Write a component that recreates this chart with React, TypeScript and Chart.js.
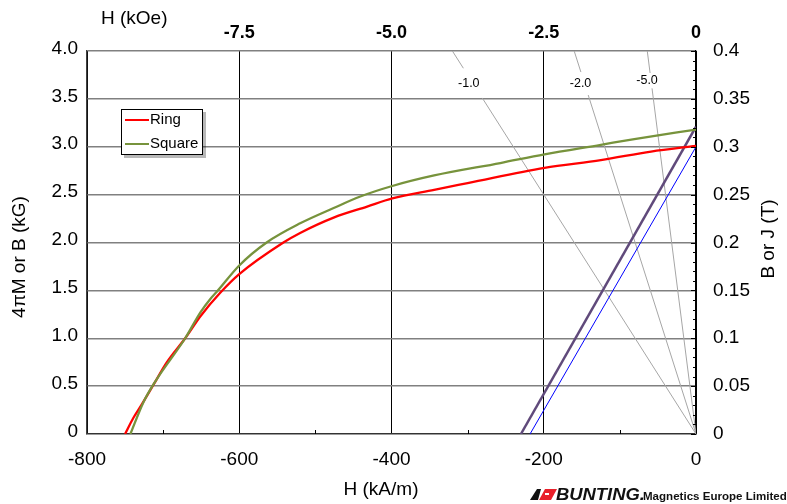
import React, { useEffect, useRef } from "react";
import { Chart, registerables } from "chart.js";

Chart.register(...registerables);

const FONT = "Arial, 'Liberation Sans', sans-serif";

// Ring demagnetisation curve: H (kA/m), 4πM or B (kG)
const ringH = [-750, -739, -728, -713, -695, -671, -651, -625, -600, -542, -520, -476, -432, -399, -344, -300, -199, -125, -59, 0];
const ringB = [0, 0.17, 0.31, 0.51, 0.75, 1.0, 1.23, 1.475, 1.67, 2.0, 2.1, 2.26, 2.375, 2.46, 2.55, 2.62, 2.78, 2.86, 2.95, 3.01];

// Square demagnetisation curve
const squareH = [-743, -726, -711, -671, -651, -638, -629, -600, -564, -520, -476, -441, -399, -344, -257, -199, -125, -81, 0];
const squareB = [0, 0.33, 0.54, 1.0, 1.27, 1.41, 1.49, 1.76, 2.0, 2.2, 2.36, 2.48, 2.59, 2.7, 2.83, 2.92, 3.02, 3.08, 3.18];

// Straight (normal) lines
const blueLineH = [-218, 0];
const blueLineB = [0, 3.0];
const purpleLineH = [-230, 0];
const purpleLineB = [0, 3.21];

// Permeance coefficient load lines (B/H in kG/kOe)
const permeances = [1.0, 2.0, 5.0];
const permeanceLabels = ["-1.0", "-2.0", "-5.0"];

// Axis ticks
const bottomMinorTicks = [-700, -500, -300, -100];
const topTickLabels: Record<string, string> = { "-7.5": "-7.5", "-5": "-5.0", "-2.5": "-2.5", "0": "0" };

export default function App() {
  const ref = useRef<HTMLCanvasElement>(null);

  useEffect(() => {
    document.body.style.margin = "0";
    const canvas = ref.current!;
    const toXY = (hs: number[], bs: number[]) => hs.map((h, i) => ({ x: h, y: bs[i] }));

    // gap (in kG) where each load line is interrupted by its label
    const loadGaps = [
      [3.51, 3.82],
      [3.54, 3.78],
      [3.61, 3.77],
    ];

    const loadDatasets = permeances.map((p, i) => {
      const [g0, g1] = loadGaps[i];
      return {
        label: permeanceLabels[i],
        data: [
          { x: 0, y: 0 },
          { x: -g0 / p, y: g0 },
          { x: -((g0 + g1) / 2) / p, y: null as any },
          { x: -g1 / p, y: g1 },
          { x: -4 / p, y: 4 },
        ],
        xAxisID: "x2",
        yAxisID: "y",
        borderColor: "#a6a6a6",
        borderWidth: 1,
        pointRadius: 0,
        spanGaps: false,
        order: 5,
      };
    });

    const decor = {
      id: "decor",
      afterDatasetsDraw(chart: any) {
        const c = chart.ctx;
        const x2 = chart.scales.x2;
        const y = chart.scales.y;
        c.save();
        c.font = `12.5px ${FONT}`;
        c.fillStyle = "#000";
        c.textAlign = "center";
        c.textBaseline = "middle";
        permeances.forEach((p, i) => {
          const [g0, g1] = loadGaps[i];
          const b = (g0 + g1) / 2;
          const px = x2.getPixelForValue(-b / p) - 4;
          const py = y.getPixelForValue(b);
          c.fillText(permeanceLabels[i], px, py);
        });
        c.restore();
      },
      afterDraw(chart: any) {
        const c = chart.ctx;
        const { x, y2 } = chart.scales;
        const area = chart.chartArea;
        c.save();
        // minor ticks bottom
        c.strokeStyle = "#000";
        c.lineWidth = 1;
        c.beginPath();
        bottomMinorTicks.forEach((v) => {
          const px = Math.round(x.getPixelForValue(v)) + 0.5;
          c.moveTo(px, area.bottom);
          c.lineTo(px, area.bottom - 4);
        });
        // right axis ticks
        for (let k = 0; k <= 40; k++) {
          const py = Math.round(y2.getPixelForValue(k / 100)) + 0.5;
          const len = k % 5 === 0 ? 5 : 3;
          c.moveTo(area.right, py);
          c.lineTo(area.right - len, py);
        }
        c.stroke();

        // titles
        c.fillStyle = "#000";
        c.font = `19px ${FONT}`;
        c.textBaseline = "middle";
        c.textAlign = "left";
        c.fillText("H (kOe)", 101, 19);
        c.textAlign = "center";
        c.fillText("H (kA/m)", 381, 490);
        c.save();
        c.translate(20, 257);
        c.rotate(-Math.PI / 2);
        c.fillText("4πM or B (kG)", 0, 0);
        c.restore();
        c.save();
        c.translate(769, 239);
        c.rotate(-Math.PI / 2);
        c.fillText("B or J (T)", 0, 0);
        c.restore();

        // legend
        c.fillStyle = "rgba(0,0,0,0.28)";
        c.fillRect(124, 112, 82, 46);
        c.fillStyle = "#fff";
        c.fillRect(121, 109, 82, 46);
        c.strokeStyle = "#000";
        c.lineWidth = 1;
        c.strokeRect(121.5, 109.5, 81, 45);
        c.lineWidth = 2;
        c.strokeStyle = "#ff0000";
        c.beginPath();
        c.moveTo(125, 120);
        c.lineTo(149, 120);
        c.stroke();
        c.strokeStyle = "#77933c";
        c.beginPath();
        c.moveTo(125, 144);
        c.lineTo(149, 144);
        c.stroke();
        c.fillStyle = "#000";
        c.font = `15px ${FONT}`;
        c.textAlign = "left";
        c.fillText("Ring", 150, 120);
        c.fillText("Square", 150, 144);

        // logo
        c.fillStyle = "#111";
        c.beginPath();
        c.moveTo(530, 500);
        c.lineTo(537, 489);
        c.lineTo(541, 489);
        c.lineTo(538, 500);
        c.closePath();
        c.fill();
        c.fillStyle = "#e8202a";
        c.beginPath();
        c.moveTo(539, 500);
        c.lineTo(545, 489);
        c.lineTo(557, 489);
        c.lineTo(551, 500);
        c.closePath();
        c.fill();
        c.fillStyle = "#fff";
        c.fillRect(545, 493, 4, 2);
        c.fillStyle = "#111";
        c.textBaseline = "alphabetic";
        c.save();
        c.translate(556, 500);
        c.scale(1.15, 1);
        c.font = `bold italic 16px ${FONT}`;
        c.fillText("BUNTING.", 0, 0);
        c.restore();
        c.save();
        c.translate(643, 500);
        c.scale(1.05, 1);
        c.font = `bold 11px ${FONT}`;
        c.fillText("Magnetics Europe Limited", 0, 0);
        c.restore();
        c.restore();
      },
    };

    const chart = new Chart(canvas, {
      type: "line",
      data: {
        datasets: [
          {
            label: "Ring",
            data: toXY(ringH, ringB),
            xAxisID: "x",
            yAxisID: "y",
            borderColor: "#ff0000",
            borderWidth: 2.3,
            pointRadius: 0,
            cubicInterpolationMode: "monotone",
            order: 1,
          },
          {
            label: "Square",
            data: toXY(squareH, squareB),
            xAxisID: "x",
            yAxisID: "y",
            borderColor: "#77933c",
            borderWidth: 2.3,
            pointRadius: 0,
            cubicInterpolationMode: "monotone",
            order: 0,
          },
          {
            label: "blue",
            data: toXY(blueLineH, blueLineB),
            xAxisID: "x",
            yAxisID: "y",
            borderColor: "#0000ff",
            borderWidth: 1,
            pointRadius: 0,
            order: 3,
          },
          {
            label: "purple",
            data: toXY(purpleLineH, purpleLineB),
            xAxisID: "x",
            yAxisID: "y",
            borderColor: "#604a7b",
            borderWidth: 2.5,
            pointRadius: 0,
            order: 2,
          },
          ...loadDatasets,
        ] as any,
      },
      options: {
        animation: false,
        responsive: false,
        events: [],
        layout: { padding: 0 },
        plugins: { legend: { display: false }, tooltip: { enabled: false } },
        scales: {
          x: {
            type: "linear",
            position: "bottom",
            min: -800,
            max: 0,
            ticks: {
              stepSize: 200,
              autoSkip: false,
              maxRotation: 0,
              padding: 14,
              color: "#000",
              font: { family: FONT, size: 19 },
              callback: (v: any) => String(v),
            },
            grid: { color: "#000", lineWidth: 1, drawTicks: false },
            border: { color: "#333", width: 1.3 },
            afterFit: (s: any) => {
              s.height = 70;
            },
          },
          x2: {
            type: "linear",
            position: "top",
            min: -10,
            max: 0,
            ticks: {
              stepSize: 2.5,
              autoSkip: false,
              maxRotation: 0,
              padding: 7,
              color: "#000",
              font: { family: FONT, size: 18, weight: "bold" },
              callback: (v: any) => topTickLabels[String(v)] ?? "",
            },
            grid: { drawOnChartArea: false, drawTicks: false },
            border: { display: false },
            afterFit: (s: any) => {
              s.height = 51;
            },
          },
          y: {
            type: "linear",
            position: "left",
            min: 0,
            max: 4,
            ticks: {
              stepSize: 0.5,
              autoSkip: false,
              padding: 9,
              labelOffset: -2.5,
              color: "#000",
              font: { family: FONT, size: 19 },
              callback: (v: any) => (v === 0 ? "0" : Number(v).toFixed(1)),
            },
            grid: { color: "#808080", lineWidth: 1.5, drawTicks: false },
            border: { color: "#404040", width: 1.3 },
            afterFit: (s: any) => {
              s.width = 87;
            },
          },
          y2: {
            type: "linear",
            position: "right",
            min: 0,
            max: 0.4,
            ticks: {
              stepSize: 0.05,
              autoSkip: false,
              padding: 17,
              color: "#000",
              font: { family: FONT, size: 19 },
              callback: (v: any) => String(Math.round(Number(v) * 100) / 100),
            },
            grid: { drawOnChartArea: false, drawTicks: false },
            border: { color: "#000", width: 1.3 },
            afterFit: (s: any) => {
              s.width = 91;
            },
          },
        },
      } as any,
      plugins: [decor],
    });

    return () => chart.destroy();
  }, []);

  return (
    <div style={{ width: 787, height: 504, background: "#fff" }}>
      <canvas ref={ref} width={787} height={504} style={{ display: "block" }} />
    </div>
  );
}
